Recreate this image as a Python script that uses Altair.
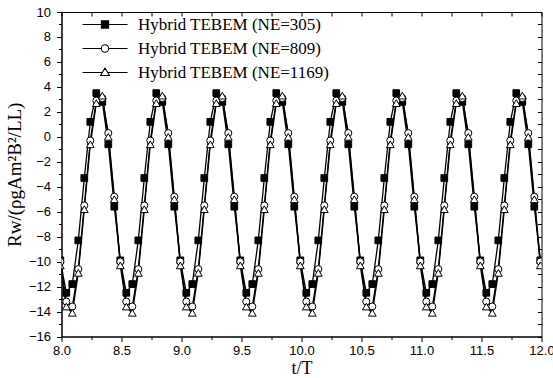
import altair as alt
import pandas as pd

# sample times (t/T)
t = [
    7.99, 8.04, 8.09, 8.14, 8.19, 8.24, 8.29, 8.34, 8.39, 8.44,
    8.49, 8.54, 8.59, 8.64, 8.69, 8.74, 8.79, 8.84, 8.89, 8.94,
    8.99, 9.04, 9.09, 9.14, 9.19, 9.24, 9.29, 9.34, 9.39, 9.44,
    9.49, 9.54, 9.59, 9.64, 9.69, 9.74, 9.79, 9.84, 9.89, 9.94,
    9.99, 10.04, 10.09, 10.14, 10.19, 10.24, 10.29, 10.34, 10.39, 10.44,
    10.49, 10.54, 10.59, 10.64, 10.69, 10.74, 10.79, 10.84, 10.89, 10.94,
    10.99, 11.04, 11.09, 11.14, 11.19, 11.24, 11.29, 11.34, 11.39, 11.44,
    11.49, 11.54, 11.59, 11.64, 11.69, 11.74, 11.79, 11.84, 11.89, 11.94,
    11.99,
]

ne305 = [
    -9.9, -12.5, -11.8, -8.3, -3.3, 1.2, 3.5, 2.8, -0.6, -5.6,
    -9.9, -12.5, -11.8, -8.3, -3.3, 1.2, 3.5, 2.8, -0.6, -5.6,
    -9.9, -12.5, -11.8, -8.3, -3.3, 1.2, 3.5, 2.8, -0.6, -5.6,
    -9.9, -12.5, -11.8, -8.3, -3.3, 1.2, 3.5, 2.8, -0.6, -5.6,
    -9.9, -12.5, -11.8, -8.3, -3.3, 1.2, 3.5, 2.8, -0.6, -5.6,
    -9.9, -12.5, -11.8, -8.3, -3.3, 1.2, 3.5, 2.8, -0.6, -5.6,
    -9.9, -12.5, -11.8, -8.3, -3.3, 1.2, 3.5, 2.8, -0.6, -5.6,
    -9.9, -12.5, -11.8, -8.3, -3.3, 1.2, 3.5, 2.8, -0.6, -5.6,
    -9.9,
]

ne809 = [
    -10.0, -13.2, -13.6, -10.6, -5.5, -0.3, 2.9, 3.1, 0.3, -4.8,
    -10.0, -13.2, -13.6, -10.6, -5.5, -0.3, 2.9, 3.1, 0.3, -4.8,
    -10.0, -13.2, -13.6, -10.6, -5.5, -0.3, 2.9, 3.1, 0.3, -4.8,
    -10.0, -13.2, -13.6, -10.6, -5.5, -0.3, 2.9, 3.1, 0.3, -4.8,
    -10.0, -13.2, -13.6, -10.6, -5.5, -0.3, 2.9, 3.1, 0.3, -4.8,
    -10.0, -13.2, -13.6, -10.6, -5.5, -0.3, 2.9, 3.1, 0.3, -4.8,
    -10.0, -13.2, -13.6, -10.6, -5.5, -0.3, 2.9, 3.1, 0.3, -4.8,
    -10.0, -13.2, -13.6, -10.6, -5.5, -0.3, 2.9, 3.1, 0.3, -4.8,
    -10.0,
]

ne1169 = [
    -10.3, -13.6, -14.1, -10.9, -5.8, -0.6, 2.7, 3.3, 0.0, -5.0,
    -10.3, -13.6, -14.1, -10.9, -5.8, -0.6, 2.7, 3.3, 0.0, -5.0,
    -10.3, -13.6, -14.1, -10.9, -5.8, -0.6, 2.7, 3.3, 0.0, -5.0,
    -10.3, -13.6, -14.1, -10.9, -5.8, -0.6, 2.7, 3.3, 0.0, -5.0,
    -10.3, -13.6, -14.1, -10.9, -5.8, -0.6, 2.7, 3.3, 0.0, -5.0,
    -10.3, -13.6, -14.1, -10.9, -5.8, -0.6, 2.7, 3.3, 0.0, -5.0,
    -10.3, -13.6, -14.1, -10.9, -5.8, -0.6, 2.7, 3.3, 0.0, -5.0,
    -10.3, -13.6, -14.1, -10.9, -5.8, -0.6, 2.7, 3.3, 0.0, -5.0,
    -10.3,
]

names = ["Hybrid TEBEM (NE=305)", "Hybrid TEBEM (NE=809)", "Hybrid TEBEM (NE=1169)"]

x_ticks = [8.0, 8.25, 8.5, 8.75, 9.0, 9.25, 9.5, 9.75, 10.0, 10.25, 10.5,
           10.75, 11.0, 11.25, 11.5, 11.75, 12.0]
y_ticks = [-16, -15, -14, -13, -12, -11, -10, -9, -8, -7, -6, -5, -4, -3,
           -2, -1, 0, 1, 2, 3, 4, 5, 6, 7, 8, 9, 10]

rows = []
for name, vals in zip(names, [ne305, ne809, ne1169]):
    for ti, v in zip(t, vals):
        rows.append({"t": ti, "v": v, "series": name})
df = pd.DataFrame(rows)

xs = alt.Scale(domain=[8, 12], nice=False, zero=False)
ys = alt.Scale(domain=[-16, 10], nice=False, zero=False)

base = alt.Chart(df)

# frame layer: carries the mirrored top / right axes with inward ticks
frame = base.mark_line(strokeOpacity=0).encode(
    x=alt.X("t:Q", scale=xs, axis=alt.Axis(
        orient="top", values=x_ticks, labels=False, title=None,
        domain=False, tickSize=4, translate=4.5, tickOffset=-4,
    )),
    y=alt.Y("v:Q", scale=ys, axis=alt.Axis(
        orient="right", values=y_ticks, labels=False, title=None,
        domain=False, tickSize=4, translate=-3.5, tickOffset=4,
    )),
    detail="series:N",
)

lines = base.mark_line(color="black", strokeWidth=1.3, clip=True).encode(
    x=alt.X("t:Q", scale=xs, axis=alt.Axis(
        orient="bottom", values=x_ticks, title="t/T", labelFlush=False,
        labelExpr="datum.value % 0.5 === 0 ? format(datum.value, '.1f') : ''",
        tickSize={"condition": {"test": "datum.value % 0.5 === 0", "value": 5}, "value": 3},
        labelPadding=3, titlePadding=2,
    )),
    y=alt.Y("v:Q", scale=ys, axis=alt.Axis(
        orient="left", values=y_ticks, title="Rw/(ρgAm²B²/LL)", labelFlush=False,
        labelExpr="datum.value % 2 === 0 ? format(datum.value, 'd') : ''",
        tickSize={"condition": {"test": "datum.value % 2 === 0", "value": 5}, "value": 3},
        labelPadding=6, titlePadding=4, titleFontSize=19,
    )),
    detail="series:N",
)

def pts(i, **kw):
    return base.transform_filter(alt.datum.series == names[i]).mark_point(
        clip=True, opacity=1, **kw
    ).encode(
        x=alt.X("t:Q", scale=xs, axis=None),
        y=alt.Y("v:Q", scale=ys, axis=None),
    )

sq = pts(0, shape="square", filled=True, fill="black", stroke="black", strokeWidth=1, size=45)
ci = pts(1, shape="circle", filled=True, fill="white", stroke="black", strokeWidth=1, size=50)
tr = pts(2, shape="triangle-up", filled=True, fill="white", stroke="black", strokeWidth=1, size=60)

paths = [
    "M-6.5,0H1M-3.35,-0.6H-2.15V0.6H-3.35Z",
    "M-6.5,0H-3.37M-2.13,0H1M-2.13,0A0.62,0.62 0 1,1 -3.37,0A0.62,0.62 0 1,1 -2.13,0Z",
    "M-6.5,0H-3.2M-2.3,0H1M-2.75,-0.75L-2.0,0.5L-3.5,0.5Z",
]

leg = alt.Legend(
    title=None, orient="none", legendX=51.5, legendY=4, padding=0,
    symbolSize=144, symbolStrokeColor="black", symbolStrokeWidth=1.1,
    labelFont="Liberation Serif", labelFontSize=17, labelColor="black",
    labelOffset=8, rowPadding=6, labelLimit=400,
)

legend_layer = alt.Chart(pd.DataFrame({"series": names})).transform_filter(
    "false"
).mark_point(filled=True, strokeWidth=1.1, opacity=1).encode(
    x=alt.value(0),
    y=alt.value(0),
    shape=alt.Shape("series:N", scale=alt.Scale(domain=names, range=paths), legend=leg),
    fill=alt.Fill("series:N", scale=alt.Scale(domain=names, range=["black", "white", "white"]), legend=leg),
    stroke=alt.Stroke("series:N", scale=alt.Scale(domain=names, range=["black", "black", "black"]), legend=leg),
)

chart = alt.layer(lines, frame, sq, ci, tr, legend_layer).resolve_axis(
    x="independent", y="independent"
).properties(
    width=480, height=324.5,
    padding={"left": 61.5, "top": 12, "right": 11.5, "bottom": 41.5},
    autosize=alt.AutoSizeParams(type="none"),
).configure_view(
    stroke="black", strokeWidth=1
).configure_axis(
    grid=False, domainColor="black", tickColor="black", labelColor="black",
    labelFont="Liberation Sans", labelFontSize=13,
    titleFont="Liberation Serif", titleFontSize=18, titleFontWeight="normal",
    titleColor="black", domainWidth=1, tickWidth=1,
)

chart.save("out.html", embed_options={"renderer": "svg", "actions": False})
